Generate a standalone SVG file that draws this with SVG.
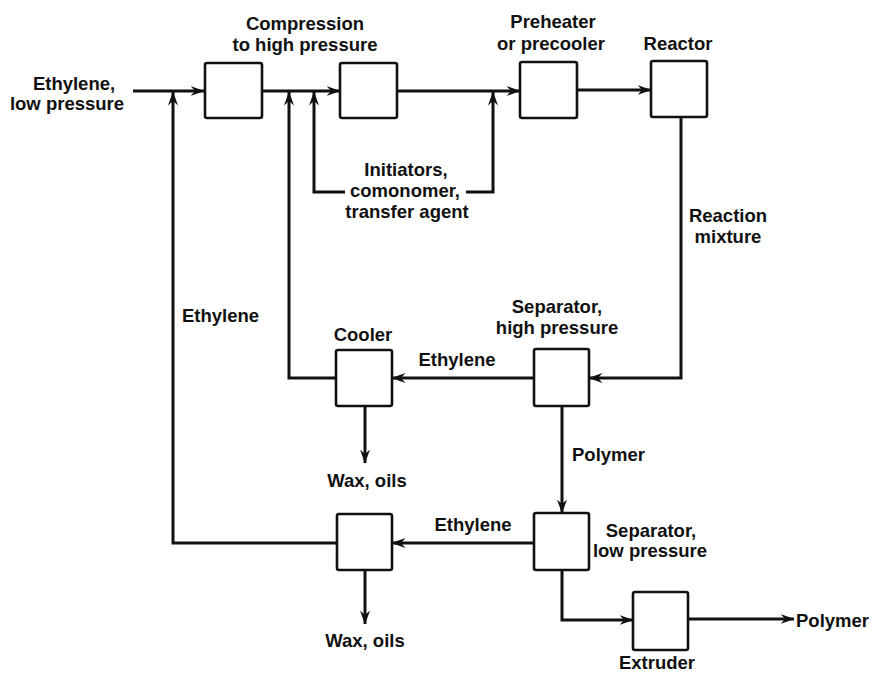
<svg xmlns="http://www.w3.org/2000/svg" width="872" height="673" viewBox="0 0 872 673">
<style>
text{font-family:"Liberation Sans",Arial,sans-serif;font-weight:bold;font-size:18.5px;fill:#111}
.m{text-anchor:middle}
.box{fill:#fff;stroke:#111;stroke-width:2.6}
.ln{fill:none;stroke:#111;stroke-width:3;stroke-linejoin:miter}
.ar{marker-end:url(#ah)}
</style>
<defs>
<marker id="ah" viewBox="0 0 14 10" refX="13.5" refY="5" markerWidth="14" markerHeight="10" orient="auto" markerUnits="userSpaceOnUse">
<path d="M0,0 L14,5 L0,10 L4.5,5 Z" fill="#111"/>
</marker>
</defs>
<rect width="872" height="673" fill="#fff"/>

<g id="connectors">
<path class="ln ar" d="M133,91 H204"/>
<path class="ln ar" d="M262,91 H340"/>
<path class="ln ar" d="M397,91 H520"/>
<path class="ln ar" d="M577,90 H651"/>
<path class="ln ar" d="M681,118 V378 H589"/>
<path class="ln ar" d="M534,378 H392"/>
<path class="ln ar" d="M336,378 H289 V92"/>
<path class="ln ar" d="M365,406 V463"/>
<path class="ln ar" d="M562,406 V513"/>
<path class="ln ar" d="M534,543 H392"/>
<path class="ln ar" d="M337,543 H173 V92"/>
<path class="ln ar" d="M365,570 V624"/>
<path class="ln ar" d="M562,570 V620 H633"/>
<path class="ln ar" d="M688,619 H794"/>
<path class="ln ar" d="M345,192 H314 V92"/>
<path class="ln ar" d="M466,192 H493 V92"/>
<text x="74" y="90" class="m">Ethylene,</text>
<text x="67" y="110" class="m">low pressure</text>
<text x="406" y="176" class="m">Initiators,</text>
<text x="405" y="197" class="m">comonomer,</text>
<text x="407" y="218" class="m">transfer agent</text>
<text x="728" y="222" class="m">Reaction</text>
<text x="728" y="243" class="m">mixture</text>
<text x="182" y="322">Ethylene</text>
<text x="457" y="366" class="m">Ethylene</text>
<text x="367" y="487" class="m">Wax, oils</text>
<text x="572" y="461">Polymer</text>
<text x="473" y="531" class="m">Ethylene</text>
<text x="365" y="647" class="m">Wax, oils</text>
<text x="796" y="627">Polymer</text>
</g>

<g id="compressor1">
<rect class="box" x="205" y="63" width="57" height="55" rx="2"/>
</g>
<g id="compressor2">
<rect class="box" x="340" y="63" width="57" height="55" rx="2"/>
<text x="305" y="30" class="m">Compression</text>
<text x="305" y="51" class="m">to high pressure</text>
</g>
<g id="preheater">
<rect class="box" x="520" y="62" width="57" height="56" rx="2"/>
<text x="553" y="28" class="m">Preheater</text>
<text x="551" y="50" class="m">or precooler</text>
</g>
<g id="reactor">
<rect class="box" x="651" y="61" width="56" height="56" rx="2"/>
<text x="678" y="50" class="m">Reactor</text>
</g>
<g id="separator-high">
<rect class="box" x="534" y="349" width="55" height="57" rx="2"/>
<text x="557" y="313" class="m">Separator,</text>
<text x="557" y="334" class="m">high pressure</text>
</g>
<g id="cooler">
<rect class="box" x="336" y="350" width="56" height="56" rx="2"/>
<text x="363" y="341" class="m">Cooler</text>
</g>
<g id="separator-low">
<rect class="box" x="534" y="513" width="55" height="57" rx="2"/>
<text x="651" y="537" class="m">Separator,</text>
<text x="650" y="557" class="m">low pressure</text>
</g>
<g id="cooler-low">
<rect class="box" x="337" y="514" width="55" height="56" rx="2"/>
</g>
<g id="extruder">
<rect class="box" x="633" y="592" width="55" height="58" rx="2"/>
<text x="657" y="669" class="m">Extruder</text>
</g>
</svg>
